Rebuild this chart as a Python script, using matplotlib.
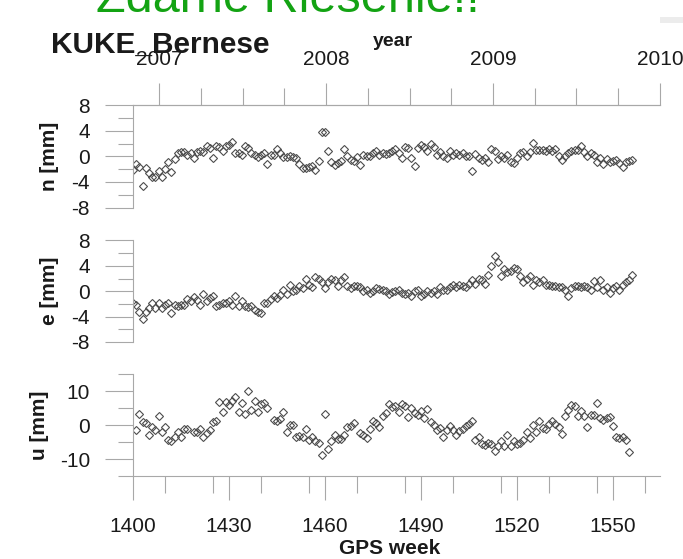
import numpy as np
import matplotlib
matplotlib.use("Agg")
import matplotlib.pyplot as plt
from matplotlib.ticker import MultipleLocator, FixedLocator

plt.rcParams['font.family'] = ['Liberation Sans', 'DejaVu Sans']
plt.rcParams['axes.unicode_minus'] = False

# weekly coordinate residuals, GPS weeks 1400-1556
weeks = np.arange(1400, 1557)

n_mm = [
    -2.1, -1.2, -1.6, -4.6, -1.8, -2.6, -3.2, -3.2, -2.3, -3.2,
    -2.0, -0.9, -2.4, -0.4, 0.5, 0.7, 0.7, 0.2, 0.5, -0.2,
    0.7, 0.8, 0.7, 1.6, 1.3, -0.2, 1.6, 1.5, 0.9, 1.6,
    1.8, 2.3, 0.5, 0.5, 0.3, 1.6, 1.3, 0.5, 0.3, -0.1,
    0.3, 0.5, -1.1, 0.2, 0.3, 1.1, 0.6, -0.1, -0.1, 0.0,
    -0.1, -0.2, -1.1, -1.8, -1.8, -1.6, -1.5, -2.1, -0.7, 3.8,
    3.8, 0.9, -0.9, -1.4, -1.0, -0.7, 1.1, 0.0, -0.5, -0.7,
    -0.1, -1.3, 0.2, 0.1, 0.1, 0.5, 0.9, 0.2, 0.5, 0.4,
    0.6, 0.9, 1.2, 0.5, -0.2, 1.5, 1.4, -0.2, -1.5, 1.3,
    1.8, 1.5, 0.9, 1.9, 1.5, 0.2, 0.7, 0.0, -0.2, 0.9,
    0.2, 0.5, 0.3, 0.5, 0.1, 0.0, -2.3, 0.4, -0.3, -0.5,
    -0.3, -0.8, 1.2, 0.9, -0.4, 0.0, -0.3, 0.3, -0.8, -1.0,
    -0.3, 0.5, 0.7, 0.1, 0.7, 2.1, 1.0, 1.0, 1.0, 0.9,
    1.1, 0.9, 1.1, 0.1, -0.5, 0.1, 0.6, 0.9, 1.0, 1.0,
    1.6, 0.7, 0.1, 0.5, 0.2, -0.8, -0.3, -1.1, -0.4, -0.8,
    -0.7, -0.5, -1.0, -1.6, -0.8, -0.7, -0.6,
]

e_mm = [
    -1.8, -2.2, -3.2, -4.4, -3.3, -2.6, -1.8, -2.7, -1.9, -2.6,
    -2.2, -1.8, -3.4, -2.2, -2.3, -2.1, -2.1, -1.2, -1.6, -0.9,
    -1.4, -2.2, -0.4, -1.6, -1.0, -0.8, -2.4, -2.1, -1.8, -1.8,
    -1.6, -2.1, -0.8, -2.3, -1.5, -2.3, -2.5, -2.3, -3.0, -3.2,
    -3.4, -1.8, -1.8, -1.2, -0.8, -1.0, -0.6, 0.2, -0.4, 1.0,
    0.0, 0.2, 0.9, 0.5, 1.9, 1.0, 0.6, 2.3, 2.0, 1.5,
    0.5, 1.5, 2.0, 1.8, 0.8, 1.8, 2.3, 0.8, 0.5, 0.8,
    0.8, 0.7, 0.1, 0.2, -0.3, 0.0, 0.5, 0.4, 0.2, 0.0,
    -0.5, -0.1, 0.0, 0.2, -0.3, -0.5, -0.3, -0.8, 0.0, 0.2,
    -0.8, -0.5, 0.1, -0.3, 0.0, -0.5, 0.7, 0.2, 0.2, 0.7,
    1.0, 0.7, 1.0, 0.9, 0.6, 1.1, 1.8, 1.1, 2.0, 1.8,
    1.2, 2.6, 4.0, 5.5, 4.6, 2.4, 3.5, 3.0, 3.2, 3.7,
    3.5, 2.4, 1.5, 2.0, 2.4, 1.0, 1.8, 1.5, 1.8, 1.0,
    1.0, 0.9, 0.9, 0.7, 0.7, 0.2, -0.7, 0.5, 0.8, 0.8,
    0.7, 0.9, 0.7, 0.2, 1.6, 0.7, 1.8, 0.2, 0.7, -0.3,
    0.5, 0.8, 0.2, 1.0, 1.5, 1.8, 2.6,
]

nan = np.nan
u_mm = [
    nan, -1.3, 3.3, 0.9, 0.6, -3.0, -0.5, -1.5, 2.6, -2.1,
    -0.5, -4.2, -4.5, -3.3, -2.1, -3.3, -1.2, -1.0, nan, -2.0,
    -2.0, -1.0, -3.3, -2.4, -1.5, 0.9, 1.3, 6.8, 4.0, 6.8,
    5.8, 7.2, 8.2, 3.8, 6.4, 3.4, 10.1, 4.6, 7.0, 3.8,
    6.3, 6.4, 5.0, nan, 1.4, 1.3, 1.9, 3.8, -2.0, 0.2,
    0.0, -3.3, -3.1, -3.3, -1.1, -4.2, -3.3, -4.7, -5.2, -8.6,
    3.4, -6.9, -4.7, -3.0, -4.0, -4.0, -2.8, -0.6, -0.1, 0.6,
    nan, -2.4, -2.8, -3.8, -1.2, 1.3, 0.6, -0.4, 2.6, 3.6,
    6.2, 5.2, 5.5, 3.8, 6.2, 5.5, 2.3, 5.0, 3.6, 3.1,
    4.1, 2.1, 4.8, 0.9, 0.2, -1.3, -0.8, -3.3, -1.3, -0.1,
    -1.3, -2.8, -1.8, -1.0, -0.1, 0.4, 1.3, -4.2, -3.3, -5.4,
    -5.7, -5.2, -5.5, -7.6, -6.2, -4.7, -6.0, -2.8, -6.2, -4.5,
    -5.5, -5.2, -4.2, -2.0, -3.8, 0.0, -2.1, 1.1, -0.8, -1.0,
    0.4, 1.1, 0.4, -0.4, -2.6, 2.6, 4.5, 5.8, 5.5, 2.6,
    4.1, 2.6, -0.6, 3.1, 2.9, 6.6, 2.1, 1.6, 2.1, 2.3,
    -0.1, -3.3, -3.8, -3.3, -4.2, -7.8, nan,
]

year_ticks = [2007, 2008, 2009, 2010]
week_ticks = [1400, 1430, 1460, 1490, 1520, 1550]


def week_to_year(w):
    # GPS week -> decimal year (2007-01-01 is 9857 days after the GPS epoch)
    return 2007 + (np.asarray(w) * 7.0 - 9857.0) / 365.25


def year_to_week(y):
    return ((np.asarray(y) - 2007) * 365.25 + 9857.0) / 7.0


grey = '#a8a8a8'
txt = '#1a1a1a'

fig = plt.figure(figsize=(6.83, 5.59), dpi=100)

panels = [
    ('n [mm]', n_mm, (-8, 8), [-8, -4, 0, 4, 8], 2, [0.1947, 0.6288, 0.7716, 0.1825]),
    ('e [mm]', e_mm, (-8, 8), [-8, -4, 0, 4, 8], 2, [0.1947, 0.3882, 0.7716, 0.1816]),
    ('u [mm]', u_mm, (-15, 15), [-10, 0, 10], 5, [0.1947, 0.1476, 0.7716, 0.1834]),
]

axes = []
for label, vals, ylim, yticks, minor, rect in panels:
    ax = fig.add_axes(rect)
    ax.plot(weeks, vals, linestyle='none', marker='D', markersize=4.2,
            markerfacecolor='none', markeredgecolor='#4d4d4d', markeredgewidth=0.8)
    ax.set_xlim(1400, year_to_week(2010))
    ax.set_ylim(*ylim)
    ax.set_yticks(yticks)
    ax.yaxis.set_minor_locator(MultipleLocator(minor))
    ax.tick_params(axis='y', which='major', direction='out', length=20, width=0.8,
                   color=grey, pad=11, labelsize=15, labelcolor=txt)
    ax.tick_params(axis='y', which='minor', direction='out', length=11, width=0.8, color=grey)
    for side in ('top', 'right', 'bottom'):
        ax.spines[side].set_visible(False)
    ax.spines['left'].set_color(grey)
    ax.spines['left'].set_linewidth(0.8)
    ax.tick_params(axis='x', which='both', bottom=False, labelbottom=False)
    ax.set_ylabel(label, fontsize=15, fontweight='bold', color=txt)
    ax.patch.set_alpha(0)
    axes.append(ax)

# GPS week axis under the bottom panel
ax_u = axes[2]
ax_u.spines['bottom'].set_visible(True)
ax_u.spines['bottom'].set_color(grey)
ax_u.spines['bottom'].set_linewidth(0.8)
ax_u.set_xticks(week_ticks)
ax_u.xaxis.set_minor_locator(MultipleLocator(15))
ax_u.tick_params(axis='x', which='major', bottom=True, labelbottom=True, direction='out',
                 length=17, width=0.8, color=grey, pad=12, labelsize=15, labelcolor=txt)
ax_u.tick_params(axis='x', which='minor', bottom=True, direction='out',
                 length=12, width=0.8, color=grey)

# calendar years along the top of the first panel
ax_n = axes[0]
ax_n.spines['top'].set_visible(True)
ax_n.spines['top'].set_color(grey)
ax_n.spines['top'].set_linewidth(0.8)
sec = ax_n.secondary_xaxis('top', functions=(week_to_year, year_to_week))
sec.set_xticks(year_ticks)
sec.xaxis.set_minor_locator(FixedLocator(np.arange(2006.75, 2010.01, 0.25)))
sec.spines['top'].set_color(grey)
sec.spines['top'].set_linewidth(0.8)
sec.tick_params(axis='x', which='major', direction='out', length=16, width=0.8,
                color=grey, pad=10, labelsize=15, labelcolor=txt)
sec.tick_params(axis='x', which='minor', direction='out', length=12, width=0.8, color=grey)

# line up the y labels
axes[0].yaxis.set_label_coords(-0.14, 0.5)
axes[1].yaxis.set_label_coords(-0.14, 0.5)
axes[2].yaxis.set_label_coords(-0.16, 0.5)

fig.text(51 / 683, 1 - 45 / 559, 'KUKE_Bernese', fontsize=21.5, fontweight='bold',
         color=txt, ha='left', va='center')
fig.text(393 / 683, 1 - 42 / 559, 'year', fontsize=14, fontweight='bold',
         color=txt, ha='center', va='center')
fig.text(390 / 683, 1 - 548 / 559, 'GPS week', fontsize=15, fontweight='bold',
         color=txt, ha='center', va='center')

# slide heading running off the top edge
fig.text(96 / 683, 1 - 12 / 559, 'Zdarné Riešenie!!', fontsize=35, color='#13a313',
         ha='left', va='baseline')
fig.patches.append(plt.Rectangle((660 / 683, 1 - 23 / 559), 23 / 683, 6 / 559,
                                 transform=fig.transFigure, color='#ececec', lw=0))

fig.savefig('out.png', dpi=100)
